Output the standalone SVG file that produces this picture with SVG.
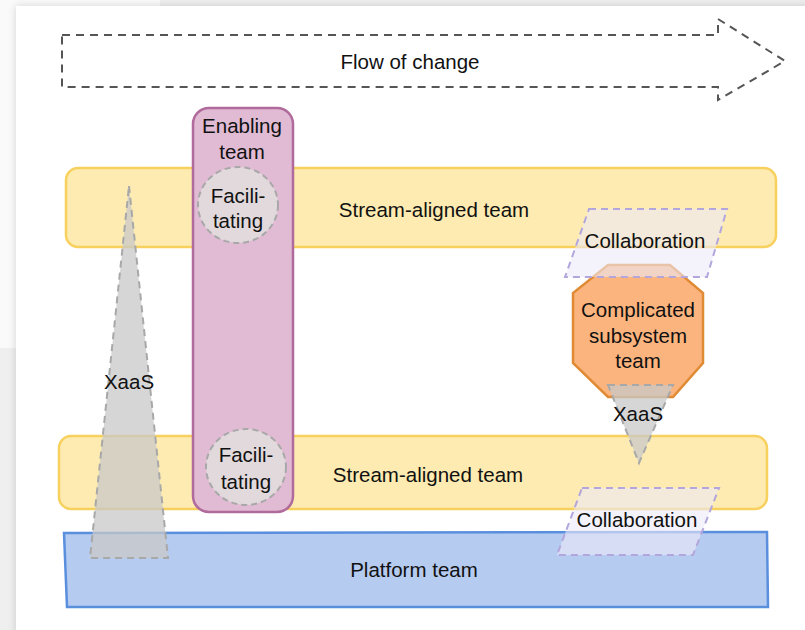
<svg xmlns="http://www.w3.org/2000/svg" width="805" height="630" viewBox="0 0 805 630">
<defs>
<filter id="sh" x="-5%" y="-5%" width="110%" height="110%"><feGaussianBlur stdDeviation="4"/></filter>
<style>
text{font-family:"Liberation Sans",Arial,sans-serif;font-size:20.5px;fill:#111;text-anchor:middle}
.stream{fill:#fdebb2;stroke:#f7d05e;stroke-width:2.5}
.plat{fill:#b6cbf0;stroke:#5a8fde;stroke-width:2.5}
.enab{fill:#e0bbd3;stroke:#b06a9b;stroke-width:2.5}
.fac{fill:#e2d9dc;stroke:#a8a8a8;stroke-width:2;stroke-dasharray:6 4}
.xaas{fill:#c8c8c8;fill-opacity:0.75;stroke:#a8a8a8;stroke-width:2;stroke-dasharray:7 5}
.collab{fill:#eceaf7;fill-opacity:0.6;stroke:#b3a6dc;stroke-width:2;stroke-dasharray:7 5}
.cst{fill:#fbb47e;stroke:#e08a34;stroke-width:2.5}
.flow{fill:none;stroke:#555;stroke-width:2;stroke-dasharray:8 6}
</style>
</defs>
<rect width="805" height="630" fill="#efefef"/>
<rect x="0" y="0" width="160" height="348" fill="#fafafa"/>
<rect x="16" y="6" width="795" height="630" fill="#000" opacity="0.15" filter="url(#sh)"/>
<rect x="16" y="6" width="795" height="630" fill="#fff"/>

<g id="flow-of-change">
<path class="flow" d="M62,35 L718,35 L718,19 L785,61 L718,100 L718,87 L62,87 Z"/>
<text x="410" y="69">Flow of change</text>
</g>

<g id="stream-aligned-team-1">
<rect class="stream" x="66" y="168" width="710" height="79" rx="12"/>
<text x="434" y="217">Stream-aligned team</text>
</g>

<g id="stream-aligned-team-2">
<rect class="stream" x="59" y="436" width="708" height="73" rx="12"/>
<text x="428" y="482">Stream-aligned team</text>
</g>

<g id="platform-team">
<path class="plat" d="M64,533 L767,532 L768,607 L67,607 Z"/>
<text x="414" y="577">Platform team</text>
</g>

<g id="enabling-team">
<rect class="enab" x="193" y="108" width="100" height="404" rx="16"/>
<text x="242" y="133">Enabling</text>
<text x="242" y="159">team</text>
</g>

<g id="facilitating-1">
<ellipse class="fac" cx="238" cy="205" rx="40" ry="38"/>
<text x="238" y="203">Facili-</text>
<text x="238" y="228">tating</text>
</g>

<g id="facilitating-2">
<ellipse class="fac" cx="246" cy="467" rx="40" ry="38"/>
<text x="246" y="462">Facili-</text>
<text x="246" y="489">tating</text>
</g>

<g id="complicated-subsystem-team">
<polygon class="cst" points="608,265 670,265 703,293 703,363 673,397 608,397 573,363 573,293"/>
<text x="638" y="317">Complicated</text>
<text x="638" y="343">subsystem</text>
<text x="638" y="368">team</text>
</g>

<g id="collaboration-1">
<polygon class="collab" points="589,209 727,209 707,277 565,277"/>
<text x="645" y="248">Collaboration</text>
</g>

<g id="xaas-2">
<polygon class="xaas" points="608,385 673,385 639,463"/>
<text x="638" y="421">XaaS</text>
</g>

<g id="collaboration-2">
<polygon class="collab" points="582,488 719,488 693,555 557,555"/>
<text x="637" y="527">Collaboration</text>
</g>

<g id="xaas-1">
<polygon class="xaas" points="129,186 168,558 90,558"/>
<text x="129" y="389">XaaS</text>
</g>
</svg>
